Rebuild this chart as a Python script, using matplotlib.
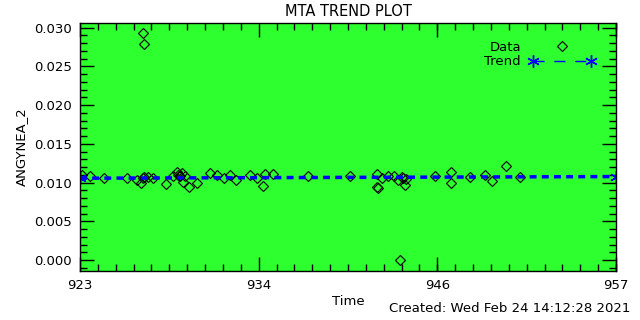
import matplotlib
matplotlib.use("Agg")
import matplotlib.pyplot as plt
from matplotlib.ticker import MultipleLocator, AutoMinorLocator, FixedLocator
from matplotlib.legend_handler import HandlerLine2D

# data
time = [923.11, 923.63, 924.52, 925.98, 926.62, 926.87, 927.00, 927.06, 927.31, 927.63,
        928.46, 928.90, 929.15, 929.22, 929.34, 929.47, 929.53, 929.66, 929.91, 930.42,
        931.25, 931.69, 932.13, 932.51, 932.90, 933.78, 934.23, 934.61, 934.73, 935.24,
        937.46, 927.02, 927.06, 940.13, 941.82, 941.84, 941.90, 942.16, 942.54, 942.92,
        943.17, 943.42, 943.49, 943.61, 943.68, 943.30, 945.52, 946.53, 946.53, 947.74,
        948.69, 949.13, 950.02, 950.91]
value = [0.0110, 0.0108, 0.0106, 0.0106, 0.0103, 0.0100, 0.0106, 0.0107, 0.0107, 0.0106,
         0.0098, 0.0108, 0.0114, 0.0110, 0.0108, 0.0112, 0.0101, 0.0108, 0.0095, 0.0099,
         0.0113, 0.0110, 0.0106, 0.0110, 0.0104, 0.0110, 0.0106, 0.0096, 0.0111, 0.0111,
         0.0109, 0.0293, 0.0279, 0.0109, 0.0111, 0.0095, 0.0093, 0.0106, 0.0108, 0.0109,
         0.0104, 0.0107, 0.0106, 0.0097, 0.0105, 0.0000, 0.0109, 0.0114, 0.0100, 0.0107,
         0.0110, 0.0102, 0.0122, 0.0107]
trend_x = [923, 957]
trend_y = [0.01058, 0.01079]
xticks = [923, 934.333, 945.667, 957]
xlabels = ["923", "934", "946", "957"]

plt.rcParams['font.family'] = ['DejaVu Sans']
fig = plt.figure(figsize=(6.4, 3.2), dpi=100)
ax = fig.add_axes([0.125, 0.153, 0.8375, 0.775])
ax.set_facecolor('#2EFF2E')

d, = ax.plot(time, value, linestyle='none', marker='D', markersize=5.5,
             markerfacecolor='none', markeredgecolor='black', markeredgewidth=0.8,
             label='Data')
t, = ax.plot(trend_x, trend_y, color='blue', linestyle=(0, (2, 1.5)), linewidth=2.5,
             marker=(6, 2, 0), markersize=9, markeredgewidth=1, label='Trend')

ax.set_xlim(923, 957)
ax.set_ylim(-0.0014, 0.0306)
ax.xaxis.set_major_locator(FixedLocator(xticks))
ax.set_xticklabels(xlabels)
ax.xaxis.set_minor_locator(AutoMinorLocator(10))
ax.yaxis.set_major_locator(MultipleLocator(0.005))
ax.yaxis.set_minor_locator(MultipleLocator(0.001))
ax.yaxis.set_major_formatter(plt.FormatStrFormatter('%.3f'))
ax.tick_params(which='both', direction='in', top=True, right=True, labelsize=9.5, width=1)
ax.tick_params(which='major', length=10, pad=6)
ax.tick_params(which='minor', length=5)
for s in ax.spines.values():
    s.set_linewidth(1)

ax.set_title('MTA TREND PLOT', fontsize=10.5, pad=5)
ax.set_xlabel('Time', fontsize=9.5, labelpad=2)
ax.set_ylabel('ANGYNEA_2', fontsize=9.5, labelpad=4)
fig.text(0.985, 0.015, 'Created: Wed Feb 24 14:12:28 2021', ha='right', va='bottom', fontsize=9.5)

leg = ax.legend(handles=[d, t], loc='upper right', bbox_to_anchor=(0.983, 0.975),
                frameon=False, markerfirst=False, numpoints=2, fontsize=9.5,
                handlelength=5.0, handletextpad=0.6, labelspacing=0.1,
                handler_map={d: HandlerLine2D(numpoints=1)})
leg.legend_handles[1].set_linewidth(1)
leg.legend_handles[1].set_linestyle((0, (8, 7)))

fig.savefig('out.png', dpi=100)
